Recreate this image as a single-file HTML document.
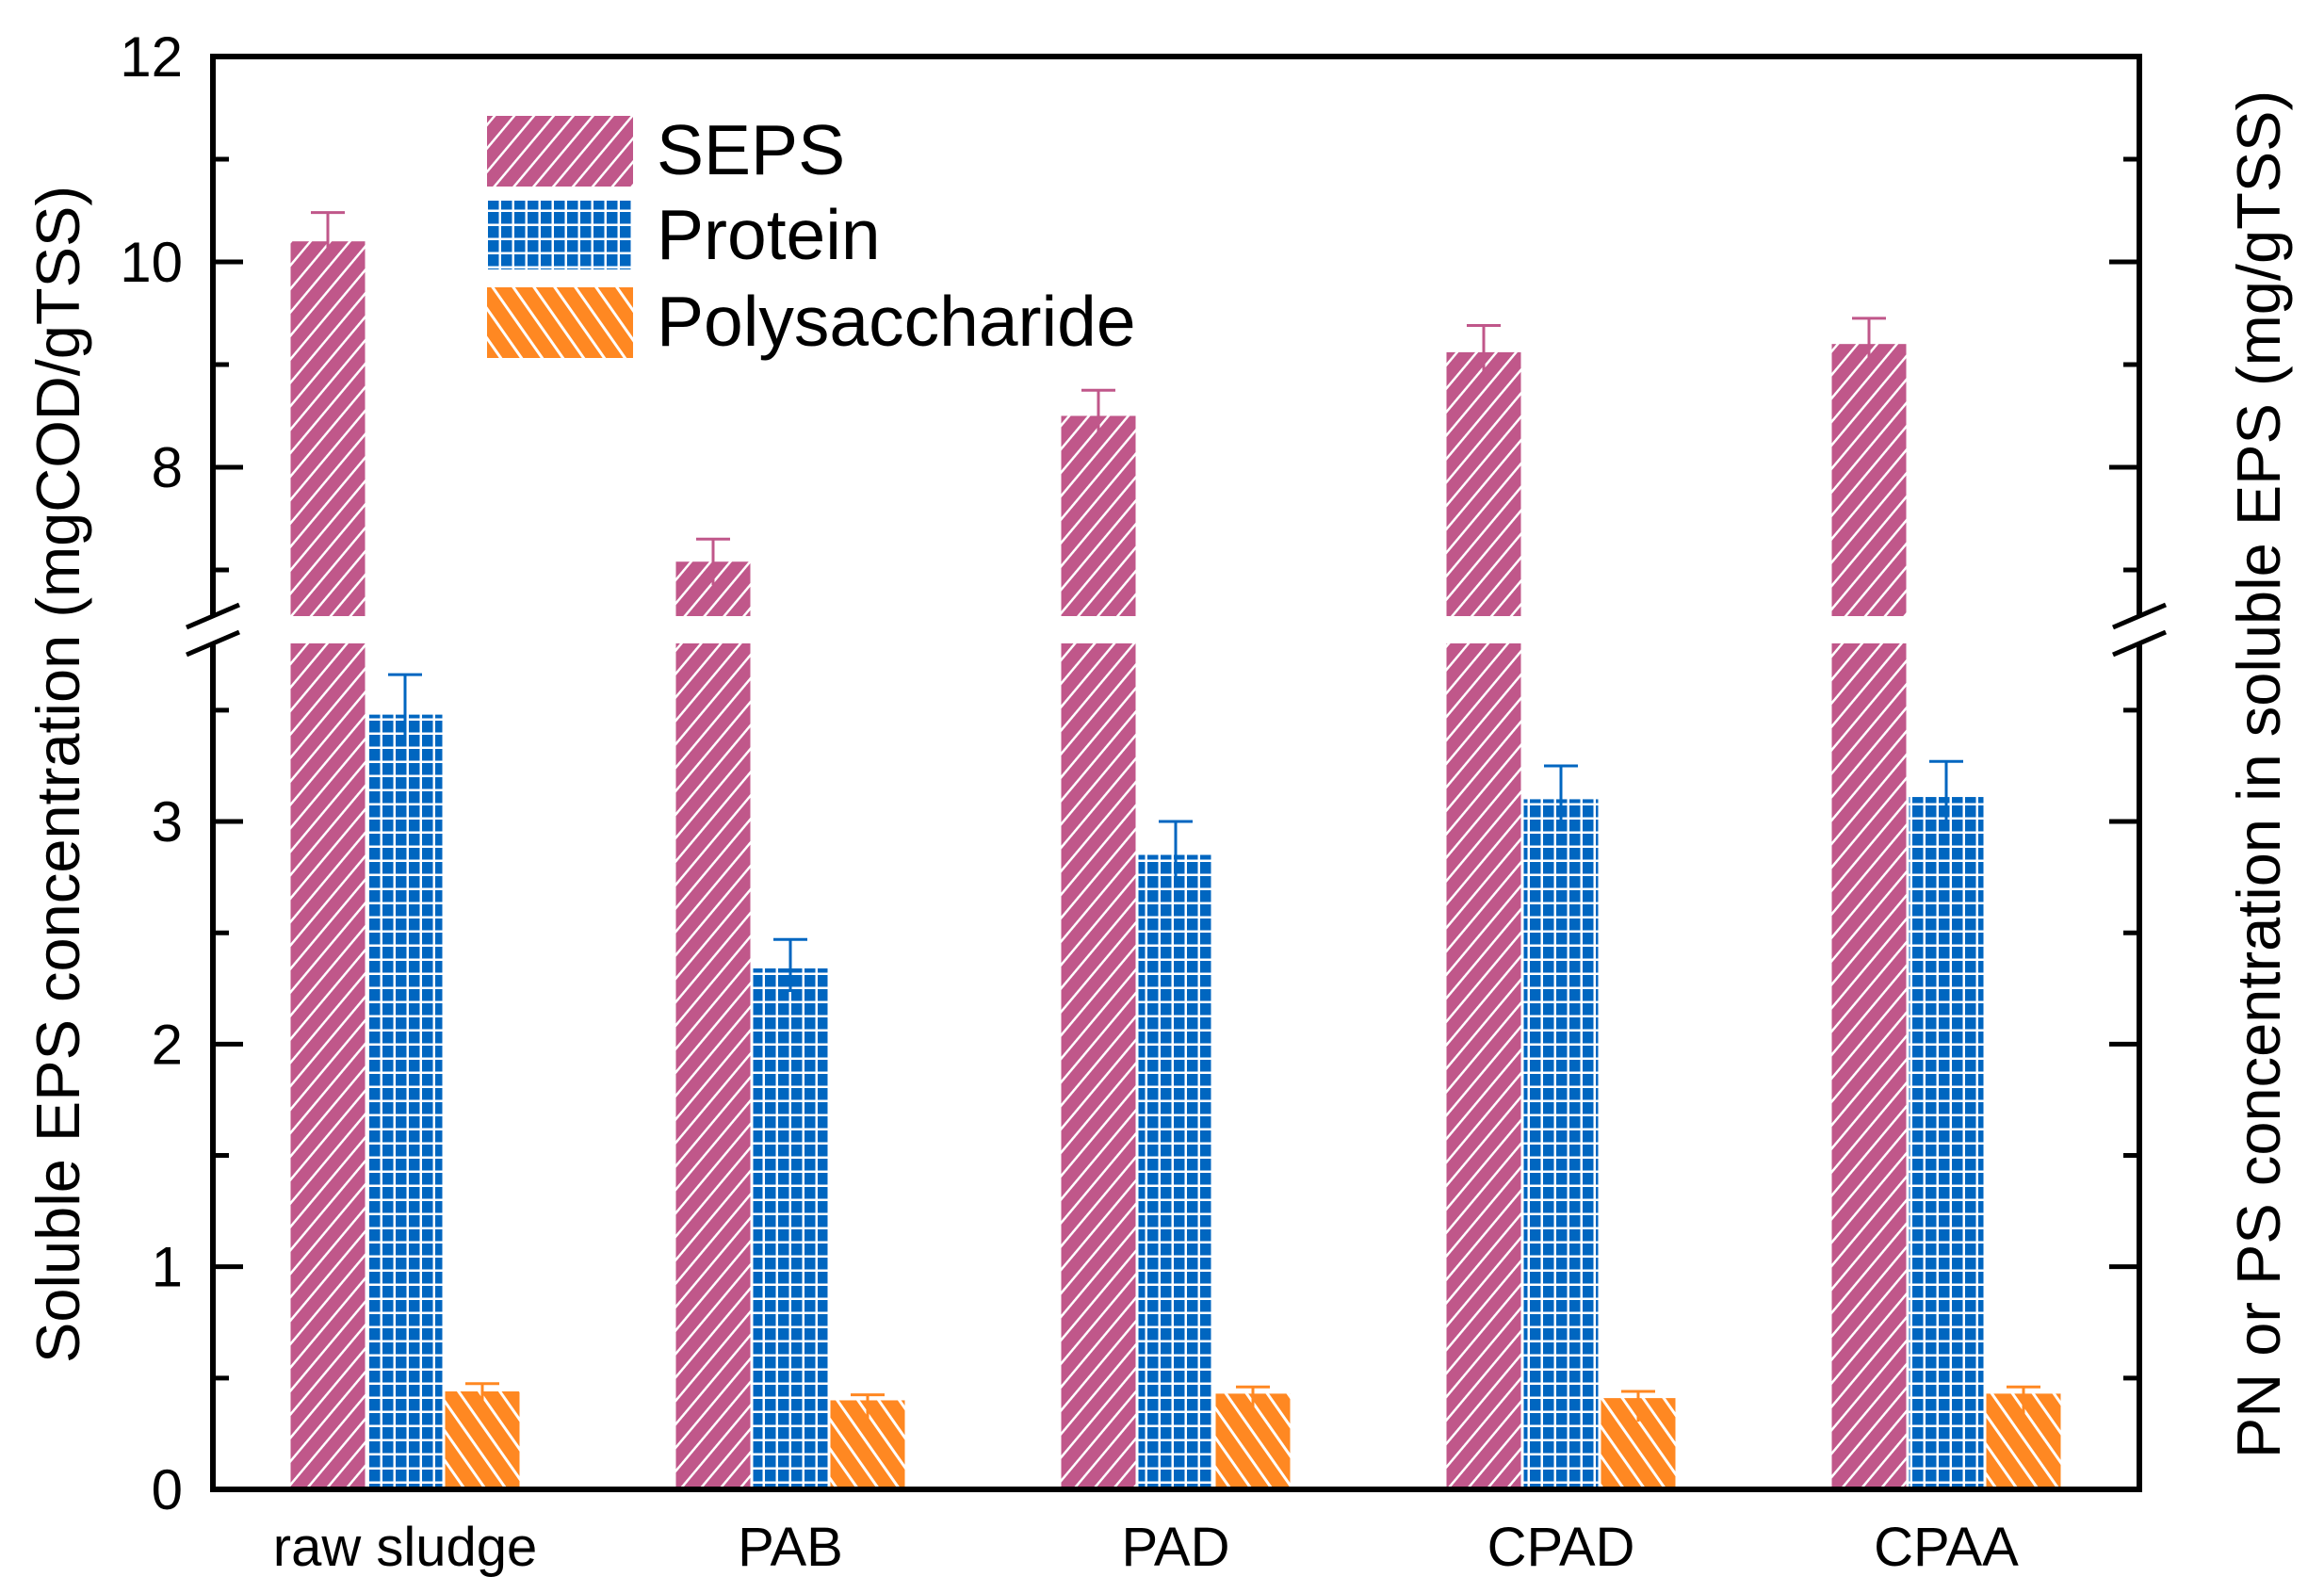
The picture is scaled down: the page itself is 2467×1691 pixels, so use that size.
<!DOCTYPE html>
<html><head><meta charset="utf-8"><style>
html,body{margin:0;padding:0;background:#fff}
svg{display:block;font-family:"Liberation Sans",Arial,sans-serif}
</style></head><body>
<svg id="chart" width="2467" height="1691" viewBox="0 0 2467 1691" xmlns="http://www.w3.org/2000/svg">
<defs>
<pattern id="pSeps" patternUnits="userSpaceOnUse" width="16" height="16" patternTransform="rotate(40)">
<rect width="16" height="16" fill="#C0578A"/><rect x="0" y="0" width="2.5" height="16" fill="#fff"/></pattern>
<pattern id="pProt" patternUnits="userSpaceOnUse" width="14" height="15">
<rect width="14" height="15" fill="#0066C0"/><rect x="11.5" y="0" width="2.5" height="15" fill="#fff"/><rect x="0" y="12.5" width="14" height="2.5" fill="#fff"/></pattern>
<pattern id="pPs" patternUnits="userSpaceOnUse" width="18" height="18" patternTransform="rotate(-35)">
<rect width="18" height="18" fill="#FF8822"/><rect x="0" y="0" width="3" height="18" fill="#fff"/></pattern>
</defs>
<g id="marks"></g>
<g id="axes"></g>
<g>
<rect x="517" y="123" width="155" height="75" fill="url(#pSeps)"/>
<text x="697" y="185" font-size="75">SEPS</text>
<rect x="517" y="213" width="155" height="73" fill="url(#pProt)"/>
<text x="697" y="275" font-size="75">Protein</text>
<rect x="517" y="305" width="155" height="75" fill="url(#pPs)"/>
<text x="697" y="367" font-size="75">Polysaccharide</text>
</g>
<text transform="translate(84,822) rotate(-90)" text-anchor="middle" font-size="65">Soluble EPS concentration (mgCOD/gTSS)</text>
<text transform="translate(2420,822) rotate(-90)" text-anchor="middle" font-size="65">PN or PS concentration in soluble EPS (mg/gTSS)</text>
</svg>
<script>
const categories = ["raw sludge","PAB","PAD","CPAD","CPAA"];
const sepsValues = [10.2, 7.08, 8.5, 9.12, 9.2];
const sepsErr = [0.28, 0.22, 0.25, 0.26, 0.25];
const proteinValues = [3.48, 2.34, 2.85, 3.1, 3.11];
const proteinErr = [0.18, 0.13, 0.15, 0.15, 0.16];
const psValues = [0.44, 0.4, 0.43, 0.41, 0.43];
const psErr = [0.035, 0.025, 0.03, 0.03, 0.03];
const upperTicks = [8, 10, 12];
const upperMinor = [7, 9, 11];
const lowerTicks = [0, 1, 2, 3];
const lowerMinor = [0.5, 1.5, 2.5, 3.5];

const NS = "http://www.w3.org/2000/svg";
const L = 226, R = 2271, T = 60, B = 1581;
const upTop = 12, upBot = 6.55, upBotY = 654;
const loTop = 3.8, loTopY = 683;
function yUp(v){ return T + (upTop - v) * (upBotY - T) / (upTop - upBot); }
function yLo(v){ return B - v * (B - loTopY) / loTop; }
function xGroup(i){ return 430 + i * 409; }
const BW = 79, GAP = 3;
function mk(tag, attrs, parent){ const e = document.createElementNS(NS, tag); for (const k in attrs) e.setAttribute(k, attrs[k]); parent.appendChild(e); return e; }
const marks = document.getElementById("marks");
const axes = document.getElementById("axes");

function errBar(x, y, yTop, color, parent){
  const g = mk("path", {d:`M${x},${y+25}V${yTop}M${x-18},${yTop}H${x+18}`, stroke:color, "stroke-width":3, fill:"none"}, parent);
  
  
}

categories.forEach((c, i) => {
  const cx = xGroup(i);
  const xs = cx - BW*1.5 - GAP, xp = cx - BW/2, xq = cx + BW/2 + GAP;
  const sU = mk("rect", {x:xs, y:yUp(sepsValues[i]), width:BW, height:upBotY - yUp(sepsValues[i]), fill:"url(#pSeps)"}, marks);
  
  
  const sL = mk("rect", {x:xs, y:loTopY, width:BW, height:B - loTopY, fill:"url(#pSeps)"}, marks);
  
  
  errBar(xs + BW/2, yUp(sepsValues[i]), yUp(sepsValues[i] + sepsErr[i]), "#C0578A", marks);
  const p = mk("rect", {x:xp, y:yLo(proteinValues[i]), width:BW, height:B - yLo(proteinValues[i]), fill:"url(#pProt)"}, marks);
  
  
  errBar(xp + BW/2, yLo(proteinValues[i]), yLo(proteinValues[i] + proteinErr[i]), "#0066C0", marks);
  const q = mk("rect", {x:xq, y:yLo(psValues[i]), width:BW, height:B - yLo(psValues[i]), fill:"url(#pPs)"}, marks);
  
  
  errBar(xq + BW/2, yLo(psValues[i]), yLo(psValues[i] + psErr[i]), "#FF8822", marks);
  const t = mk("text", {x:cx, y:1662, "text-anchor":"middle", "font-size":58}, axes);
  t.textContent = c;
  
  
});

const fr = mk("path", {d:`M${L},${upBotY}V${T}H${R}V${upBotY}M${L},${loTopY}V${B}H${R}V${loTopY}`, stroke:"#000", "stroke-width":6, fill:"none"}, axes);


[L, R].forEach(x => {
  const br = mk("path", {d:`M${x-28},${upBotY+12}L${x+28},${upBotY-12}M${x-28},${loTopY+12}L${x+28},${loTopY-12}`, stroke:"#000", "stroke-width":5, fill:"none"}, axes);
  
  
});
function tick(y, len, label){
  mk("path", {d:`M${L},${y}h${len}M${R},${y}h${-len}`, stroke:"#000", "stroke-width":5}, axes);
  if (label !== null){
    const t = mk("text", {x:194, y:y+21, "text-anchor":"end", "font-size":60}, axes);
    t.textContent = label;
    
    
  }
}
upperTicks.forEach(v => tick(yUp(v), 32, String(v)));
upperMinor.forEach(v => tick(yUp(v), 17, null));
lowerTicks.forEach(v => tick(yLo(v), 32, String(v)));
lowerMinor.forEach(v => tick(yLo(v), 17, null));
</script>
</body></html>
